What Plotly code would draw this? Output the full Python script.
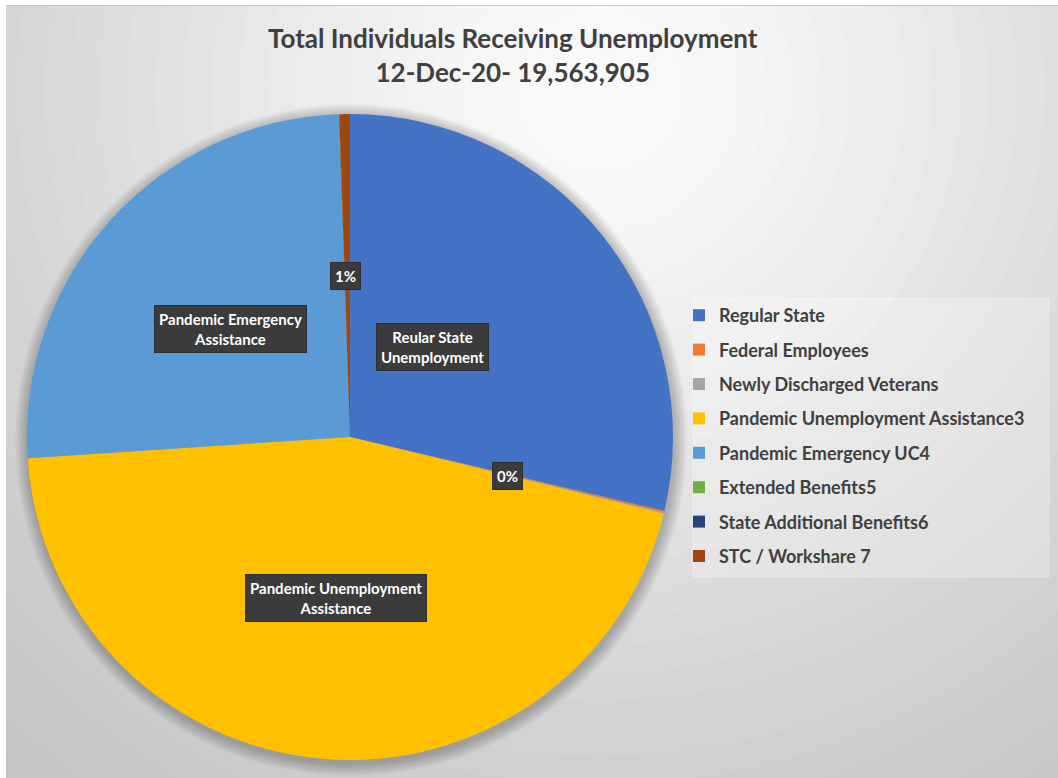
import plotly.graph_objects as go

# Continued weeks claimed, all programs, week ending 12-Dec-2020
programs = [
    "Regular State",
    "Federal Employees",
    "Newly Discharged Veterans",
    "Pandemic Unemployment Assistance3",
    "Pandemic Emergency UC4",
    "Extended Benefits5",
    "State Additional Benefits6",
    "STC / Workshare 7",
]
claims = [5611000, 17000, 8000, 8833000, 4987000, 2000, 3000, 102905]
slice_colors = ["#4472C4", "#ED7D31", "#A5A5A5", "#FFC000",
                "#5B9BD5", "#70AD47", "#264478", "#9E480E"]

title_lines = ["Total Individuals Receiving Unemployment",
               "12-Dec-20- 19,563,905"]

W, H = 1058, 778
FONT = "Lato, 'Open Sans', sans-serif"
TEXT_DARK = "#404040"

total = sum(claims)


def px_x(x):
    return x / W


def px_y(y):
    return 1 - y / H


def circle(cx, cy, r, color):
    return dict(type="circle", xref="paper", yref="paper",
                xsizemode="pixel", ysizemode="pixel",
                xanchor=px_x(cx), yanchor=px_y(cy),
                x0=-r, x1=r, y0=-r, y1=r,
                fillcolor=color, line_width=0, layer="below")


shapes = []
# radial backdrop, light near the top centre and greyer toward the corners
grad_cx, grad_cy = 600, 90
grad_stops = [(0, 250), (150, 246), (300, 236), (450, 225),
              (600, 214), (750, 204), (1000, 192)]
steps = 36
r_max = 1000
for i in range(steps, 0, -1):
    r = r_max * i / steps
    for (r0, g0), (r1, g1) in zip(grad_stops, grad_stops[1:]):
        if r0 <= r <= r1:
            g = g0 + (g1 - g0) * (r - r0) / (r1 - r0)
            break
    g = int(round(g))
    shapes.append(circle(grad_cx, grad_cy, r, f"rgb({g},{g},{g})"))

# soft drop shadow under the pie
pie_cx, pie_cy, pie_r = 350, 437, 323
for k in range(8, 0, -1):
    shapes.append(circle(pie_cx + 1, pie_cy + 3, pie_r + 1.6 * k,
                         "rgba(0,0,0,0.03)"))

# white page margin at the left and top edges
shapes.append(dict(type="rect", xref="paper", yref="paper",
                   x0=0, x1=px_x(6), y0=0, y1=1,
                   fillcolor="white", line_width=0, layer="below"))
shapes.append(dict(type="rect", xref="paper", yref="paper",
                   x0=0, x1=1, y0=px_y(5), y1=1,
                   fillcolor="white", line_width=0, layer="below"))
shapes.append(dict(type="line", xref="paper", yref="paper",
                   x0=px_x(6), x1=1, y0=px_y(5.5), y1=px_y(5.5),
                   line=dict(color="#c8c8c8", width=1), layer="below"))

# lighter panel behind the legend
shapes.append(dict(type="rect", xref="paper", yref="paper",
                   x0=px_x(693), x1=px_x(1049), y0=px_y(577), y1=px_y(298),
                   fillcolor="rgba(255,255,255,0.25)",
                   line=dict(color="rgba(255,255,255,0.35)", width=1),
                   layer="below"))

fig = go.Figure()

fig.add_trace(go.Pie(
    labels=programs,
    values=claims,
    marker=dict(colors=slice_colors, line=dict(width=0)),
    sort=False,
    direction="clockwise",
    rotation=0,
    textinfo="none",
    showlegend=False,
    domain=dict(x=[px_x(pie_cx - pie_r), px_x(pie_cx + pie_r)],
                y=[px_y(pie_cy + pie_r), px_y(pie_cy - pie_r)]),
    hovertemplate="%{label}<br>%{value:,}<br>%{percent}<extra></extra>",
))

# legend entries, one group per program so the rows get extra spacing
for name, color in zip(programs, slice_colors):
    fig.add_trace(go.Scatter(
        x=[None], y=[None], mode="markers", name=name, legendgroup=name,
        marker=dict(symbol="square", size=12, color=color),
        hoverinfo="skip",
    ))


def pct_text(name):
    return f"{round(100 * claims[programs.index(name)] / total)}%"


callouts = [
    ("Reular State<br>Unemployment", 432, 347),
    ("Pandemic Emergency<br>Assistance", 230, 329),
    ("Pandemic Unemployment<br>Assistance", 336, 598),
    (pct_text("Federal Employees"), 507, 476),
    (pct_text("STC / Workshare 7"), 345, 276),
]
annotations = []
for text, x, y in callouts:
    annotations.append(dict(
        text=f"<b>{text}</b>", x=px_x(x), y=px_y(y),
        xref="paper", yref="paper", xanchor="center", yanchor="middle",
        showarrow=False, align="center",
        font=dict(family=FONT, size=15, color="white"),
        bgcolor="#3b3b3b", borderpad=4, bordercolor="#2e2e2e",
        borderwidth=1,
    ))

# two-line chart title
annotations.append(dict(
    text="<b>" + "<br>".join(title_lines) + "</b>",
    x=px_x(513), y=px_y(55), xref="paper", yref="paper",
    xanchor="center", yanchor="middle", showarrow=False, align="center",
    font=dict(family=FONT, size=26, color=TEXT_DARK),
))

fig.update_layout(
    width=W, height=H,
    margin=dict(l=0, r=0, t=0, b=0),
    paper_bgcolor="white",
    plot_bgcolor="rgba(0,0,0,0)",
    xaxis=dict(visible=False, range=[0, 1]),
    yaxis=dict(visible=False, range=[0, 1]),
    legend=dict(
        x=px_x(679), xanchor="left",
        y=px_y(297), yanchor="top",
        bgcolor="rgba(0,0,0,0)",
        traceorder="grouped",
        tracegroupgap=8,
        font=dict(family=FONT, size=18, color=TEXT_DARK, weight="bold"),
        itemclick=False, itemdoubleclick=False,
    ),
    shapes=shapes,
    annotations=annotations,
    showlegend=True,
)

fig.write_html("out.html")
